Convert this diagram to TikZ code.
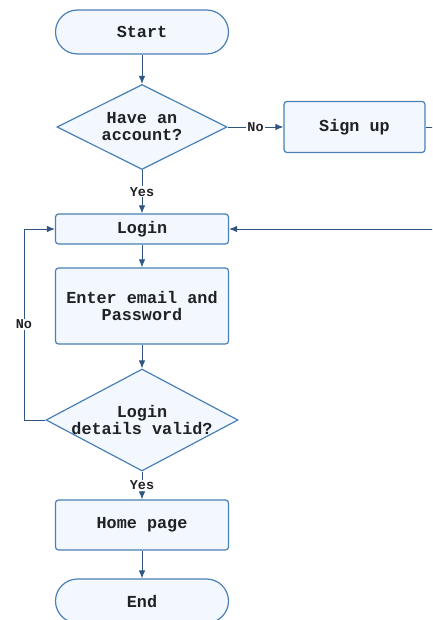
\documentclass[tikz,border=0pt]{standalone}
\usepackage{fontspec}
\setmonofont{Liberation Mono}
\usepackage{xcolor}
\usepackage{tikz}
\usetikzlibrary{shapes.geometric,arrows.meta}
\definecolor{edge}{HTML}{4A7FB5}
\definecolor{arrow}{HTML}{2F5580}
\definecolor{boxfill}{HTML}{F3F8FE}
\definecolor{label}{HTML}{1F2328}

\begin{document}
\begin{tikzpicture}[x=1pt, y=-1pt,
  every node/.style={color=label, font=\ttfamily\bfseries\fontsize{16.8}{17}\selectfont, align=center},
  process/.style={draw=edge, fill=boxfill, line width=1.2pt, rounded corners=3pt, minimum width=173pt, inner sep=0pt},
  terminal/.style={process, rounded corners=22pt, minimum height=44pt},
  decision/.style={diamond, draw=edge, fill=boxfill, line width=1.2pt, inner sep=0pt},
  flow/.style={draw=arrow, line width=0.9pt, -{Latex[length=8pt,width=6.5pt]}},
  answer/.style={font=\ttfamily\bfseries\fontsize{13.5}{14}\selectfont, fill=white, inner sep=1pt}]
  \useasboundingbox (0,0) rectangle (432,620);
  \clip (0,0) rectangle (432,620);

  \node[terminal] (start) at (142,32) {Start};
  \node[decision, minimum width=170pt, minimum height=85pt, aspect=2] (have) at (142,127) {Have an\\account?};
  \node[process, minimum width=141pt, minimum height=51pt] (signup) at (354.5,127) {Sign up};
  \node[process, minimum height=30pt] (login) at (142,229) {Login};
  \node[process, minimum height=76pt] (enter) at (142,306) {Enter email and\\Password};
  \node[decision, minimum width=192pt, minimum height=102pt, aspect=1.88, inner xsep=-10pt] (valid) at (142,420) {Login\\details valid?};
  \node[process, minimum height=50pt] (home) at (142,525) {Home page};
  \node[terminal] (end) at (142,601) {End};

  \coordinate (back) at (450,229);
  \coordinate (retry) at (24,420);

  \draw[flow] (start) -- (have);
  \draw[flow] (have) -- node[answer] {No} (signup);
  \draw[flow] (have) -- node[answer] {Yes} (login);
  \draw[flow] (signup.east) -| (back) -- (login.east);
  \draw[flow] (login) -- (enter);
  \draw[flow] (enter) -- (valid);
  \draw[flow] (valid) -- node[answer] {Yes} (home);
  \draw[flow] (home) -- (end);
  \draw[flow] (valid.west) -- (retry) |- node[answer, pos=0.25] {No} (login.west);
\end{tikzpicture}
\end{document}
